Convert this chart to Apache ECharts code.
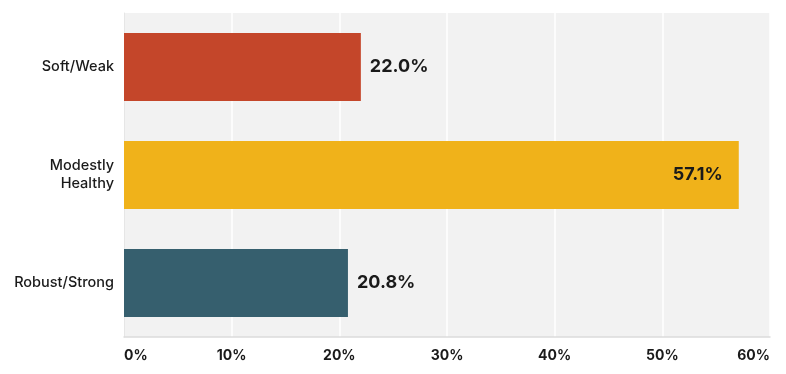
<!DOCTYPE html>
<html><head><meta charset="utf-8">
<script src="https://cdn.jsdelivr.net/npm/echarts@6/dist/echarts.min.js"></script>
<style>html,body{margin:0;padding:0;background:#fff}#c{width:786px;height:374px}</style>
</head><body><div id="c"></div>
<script>
const categories = ['Soft/Weak', 'Modestly\nHealthy', 'Robust/Strong'];
const values = [22.0, 57.1, 20.8];
const colors = ['#c4462a', '#f0b21a', '#365f6e'];
const labelPos = ['right', 'insideRight', 'right'];
const tickMax = 60;

const chart = echarts.init(document.getElementById('c'));
chart.setOption({
  animation: false,
  grid: {left: 124, right: 16, top: 13, bottom: 37, show: true, backgroundColor: '#f2f2f2', borderWidth: 0},
  xAxis: {
    type: 'value', min: 0, max: tickMax, interval: 10,
    axisLine: {show: true, lineStyle: {color: '#dcdcdc', width: 1.5}},
    axisTick: {show: false},
    splitLine: {show: true, lineStyle: {color: '#ffffff', width: 1.5}},
    axisLabel: {formatter: '{value}%', color: '#1a1a1a', fontFamily: 'Inter', fontWeight: 'bold', fontSize: 14, margin: 12,
      alignMinLabel: 'left', alignMaxLabel: 'right'}
  },
  yAxis: {
    type: 'category', data: categories, inverse: true,
    axisLine: {show: true, lineStyle: {color: '#e6e6e6', width: 1}},
    axisTick: {show: false},
    axisLabel: {color: '#1a1a1a', fontFamily: 'Inter', fontWeight: 500, fontSize: 14.5, margin: 10, lineHeight: 18}
  },
  series: [{
    type: 'bar', barWidth: '63%',
    data: values.map((v, i) => ({
      value: v,
      itemStyle: {color: colors[i]},
      label: {position: labelPos[i], distance: labelPos[i] === 'insideRight' ? 16 : 9}
    })),
    label: {show: true, formatter: p => p.value.toFixed(1) + '%', fontFamily: 'Inter', fontWeight: 'bold', fontSize: 18, color: '#1a1a1a'}
  }]
});
</script></body></html>
